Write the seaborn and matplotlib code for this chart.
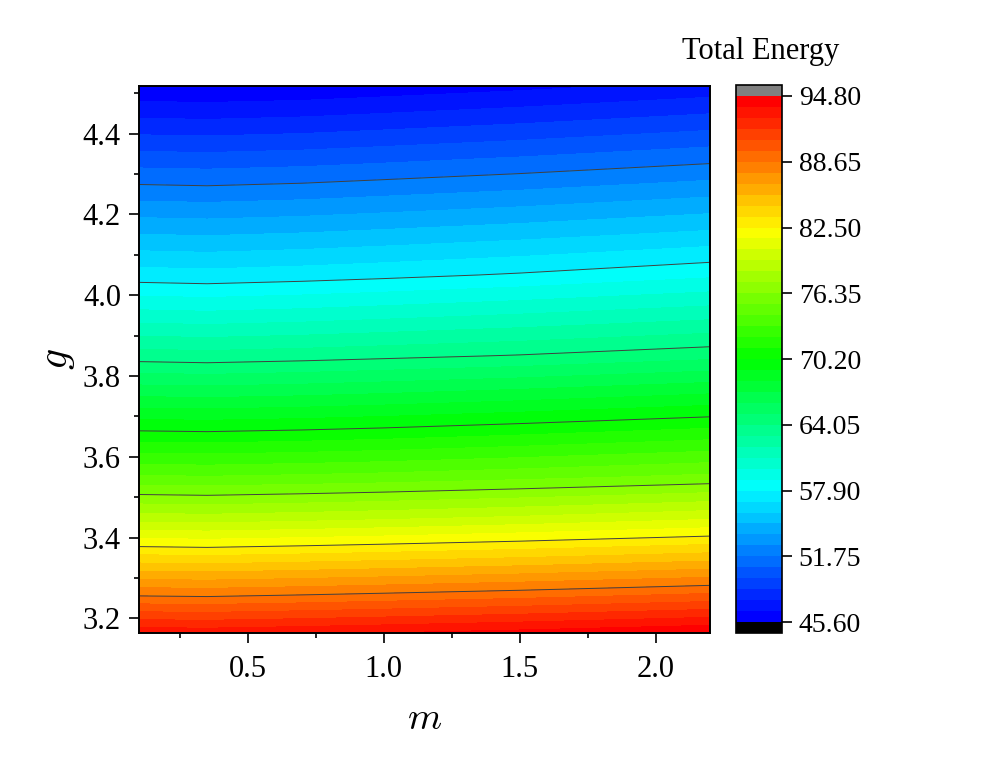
import numpy as np
import pandas as pd
import matplotlib
matplotlib.use("Agg")
import matplotlib.pyplot as plt
import seaborn as sns
from matplotlib.ticker import AutoMinorLocator, MultipleLocator

# ---- data ----
m_values = [0.1, 0.35, 0.7, 1.0, 1.5, 2.2]
g_values = [3.15, 3.25, 3.35, 3.45, 3.55, 3.65, 3.75, 3.85,
            3.95, 4.05, 4.15, 4.25, 4.35, 4.45, 4.55]

# Total energy along g (ascending) for each m column
energy_m010 = [94.19, 88.94, 83.91, 78.84, 74.45, 70.72, 67.09, 63.54,
               60.37, 57.35, 54.85, 52.35, 49.85, 47.35, 44.90]
energy_m035 = [94.11, 88.86, 83.81, 78.74, 74.37, 70.65, 67.00, 63.44,
               60.26, 57.25, 54.76, 52.27, 49.78, 47.28, 44.86]
energy_m070 = [94.32, 89.07, 84.01, 78.94, 74.52, 70.80, 67.16, 63.61,
               60.45, 57.43, 54.93, 52.43, 49.93, 47.43, 44.93]
energy_m100 = [94.53, 89.28, 84.21, 79.15, 74.68, 70.98, 67.36, 63.80,
               60.68, 57.63, 55.14, 52.65, 50.15, 47.65, 45.15]
energy_m150 = [94.90, 89.65, 84.57, 79.55, 75.03, 71.37, 67.74, 64.12,
               61.07, 58.02, 55.51, 53.02, 50.53, 48.03, 45.53]
energy_m220 = [95.50, 90.28, 85.17, 80.21, 75.59, 71.97, 68.36, 64.74,
               61.67, 58.72, 56.11, 53.63, 51.15, 48.65, 46.15]

cbar_ticks = [45.60, 51.75, 57.90, 64.05, 70.20, 76.35, 82.50, 88.65, 94.80]
line_levels = cbar_ticks[1:-1]
n_bands = 48

# ---- style ----
sns.set_style("ticks")
plt.rcParams['font.family'] = ['Liberation Serif', 'DejaVu Serif']
plt.rcParams['mathtext.fontset'] = 'cm'
for key in ['text.color', 'axes.labelcolor', 'xtick.color', 'ytick.color',
            'axes.edgecolor']:
    plt.rcParams[key] = 'black'

df = pd.DataFrame({m: col for m, col in zip(
    m_values, [energy_m010, energy_m035, energy_m070,
               energy_m100, energy_m150, energy_m220])}, index=g_values)
Z = df.values

levels = np.linspace(cbar_ticks[0], cbar_ticks[-1], n_bands + 1)
band_colors = sns.blend_palette(['#0000ff', '#00ffff', '#00ff00',
                                 '#ffff00', '#ff0000'], n_colors=n_bands)
colors = ['#000000'] + [tuple(c) for c in band_colors] + ['#808080']

fig = plt.figure(figsize=(9.96, 7.63), dpi=100)
ax = fig.add_axes([0.1396, 0.1704, 0.5733, 0.717])

cf = ax.contourf(df.columns.values, df.index.values, Z, levels=levels,
                 colors=colors, extend='both')
ax.contour(df.columns.values, df.index.values, Z, levels=line_levels,
           colors='#404040', linewidths=0.7)

ax.set_xlim(0.1, 2.2)
ax.set_ylim(3.164, 4.518)
ax.xaxis.set_major_locator(MultipleLocator(0.5))
ax.yaxis.set_major_locator(MultipleLocator(0.2))
ax.xaxis.set_minor_locator(AutoMinorLocator(2))
ax.yaxis.set_minor_locator(AutoMinorLocator(2))
ax.tick_params(which='major', direction='out', length=7, width=1.2,
               labelsize=22, pad=6, colors='black')
ax.tick_params(which='minor', direction='out', length=3.6, width=1.2,
               colors='black')
ax.tick_params(axis='x', which='major', pad=9)
for s in ax.spines.values():
    s.set_linewidth(1.4)
    s.set_color('black')

ax.set_xlabel('$m$', fontsize=28, labelpad=12, color='black')
ax.set_ylabel('$g$', fontsize=30, labelpad=4, color='black')

cax = fig.add_axes([0.739, 0.1704, 0.0462, 0.718])
cb = fig.colorbar(cf, cax=cax, extendrect=True, extendfrac=0.0206,
                  ticks=cbar_ticks, format='%.2f')
cb.outline.set_linewidth(1.2)
cb.outline.set_edgecolor('black')
cax.minorticks_off()
cax.tick_params(direction='out', length=7, width=1.2, labelsize=20, pad=5,
                colors='black')
fig.text(761 / 996, 1 - 52 / 763, 'Total Energy', ha='center', va='center',
         fontsize=22, color='black')

fig.savefig('out.png', dpi=100)
